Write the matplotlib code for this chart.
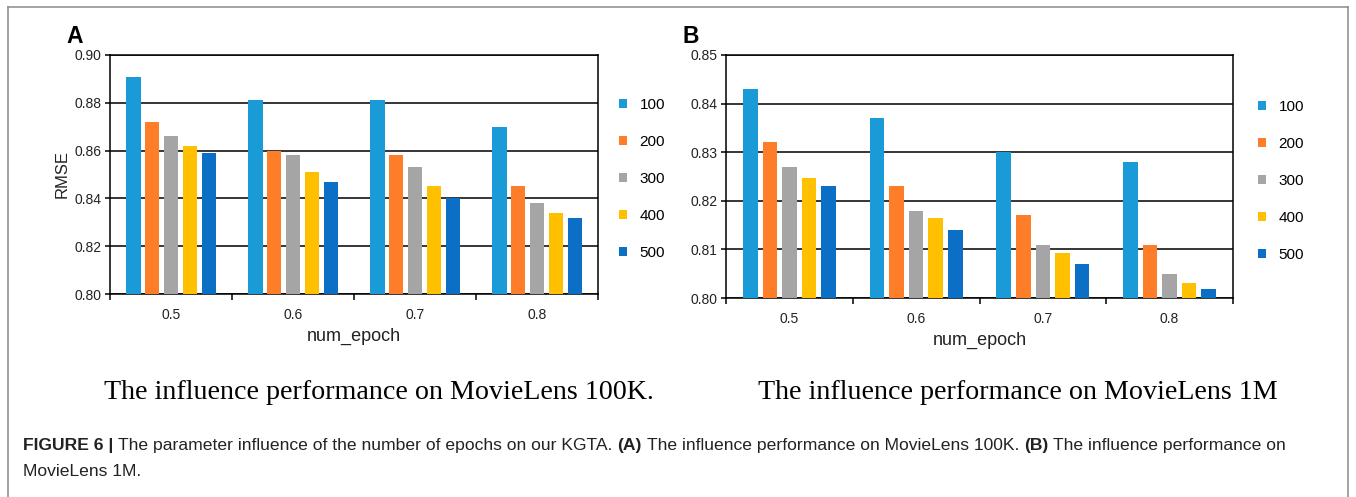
import matplotlib
matplotlib.use("Agg")
import matplotlib.pyplot as plt
import numpy as np
from matplotlib.lines import Line2D
from matplotlib.patches import Patch

W, H = 1356, 497

epochs = ["0.5", "0.6", "0.7", "0.8"]
series = ["100", "200", "300", "400", "500"]
colors = ["#1a9bd7", "#fd7d28", "#a5a5a5", "#ffc000", "#0a6fc5"]

# MovieLens 100K, RMSE per epoch setting
ml100k_100 = [0.891, 0.881, 0.881, 0.870]
ml100k_200 = [0.872, 0.860, 0.858, 0.845]
ml100k_300 = [0.866, 0.858, 0.853, 0.838]
ml100k_400 = [0.862, 0.851, 0.845, 0.834]
ml100k_500 = [0.859, 0.847, 0.840, 0.832]

# MovieLens 1M
ml1m_100 = [0.843, 0.837, 0.830, 0.828]
ml1m_200 = [0.832, 0.823, 0.817, 0.811]
ml1m_300 = [0.827, 0.818, 0.811, 0.805]
ml1m_400 = [0.8247, 0.8165, 0.8093, 0.8031]
ml1m_500 = [0.823, 0.814, 0.807, 0.8018]

yticks_a = [0.80, 0.82, 0.84, 0.86, 0.88, 0.90]
yticks_b = [0.80, 0.81, 0.82, 0.83, 0.84, 0.85]

SANS = "Liberation Sans"
SERIF = "Liberation Serif"


def px_axes(l, t, r, b):
    return [l / W, 1 - b / H, (r - l) / W, (b - t) / H]


def draw_panel(ax, values, yticks, leg_anchor):
    x = np.arange(len(epochs))
    pitch, width = 0.154, 0.116
    for i, (vals, c) in enumerate(zip(values, colors)):
        ax.bar(x + (i - 2) * pitch, vals, width=width, color=c, zorder=3)
    ax.set_xlim(-0.5, len(epochs) - 0.5)
    ax.set_ylim(yticks[0], yticks[-1])
    ax.set_yticks(yticks)
    ax.set_yticklabels([f"{v:.2f}" for v in yticks], fontfamily=SANS, fontsize=10, color="#222222")
    ax.set_xticks(x)
    ax.set_xticklabels(epochs, fontfamily=SANS, fontsize=10, color="#222222")
    ax.set_xticks(np.arange(-0.5, len(epochs), 1), minor=True)
    ax.tick_params(axis="x", which="major", length=0, pad=10)
    ax.tick_params(axis="x", which="minor", length=4, width=1.1, color="black")
    ax.tick_params(axis="y", length=3.5, width=1.1, pad=2.5, color="black")
    ax.yaxis.grid(True, color="black", linewidth=1.1, zorder=1)
    ax.set_axisbelow(True)
    for s in ax.spines.values():
        s.set_linewidth(1.1)
        s.set_color("black")
    ax.set_xlabel("num_epoch", fontfamily=SANS, fontsize=13, color="#222222", labelpad=4)
    handles = [Patch(facecolor=c, edgecolor="none") for c in colors]
    ax.legend(handles, series, loc="upper left", bbox_to_anchor=leg_anchor,
              frameon=False, handlelength=0.55, handleheight=0.55, handletextpad=0.8,
              labelspacing=1.51, borderpad=0, borderaxespad=0,
              prop={"family": SANS, "size": 11})


fig = plt.figure(figsize=(W / 100, H / 100), dpi=100)

ax_a = fig.add_axes(px_axes(110, 55, 598, 294))
draw_panel(ax_a, [ml100k_100, ml100k_200, ml100k_300, ml100k_400, ml100k_500],
           yticks_a, (1.043, 0.822))
ax_a.set_ylabel("RMSE", fontfamily=SANS, fontsize=12, color="#222222")
ax_a.yaxis.set_label_coords(-0.082, 0.5)

ax_b = fig.add_axes(px_axes(726, 55, 1233, 298))
draw_panel(ax_b, [ml1m_100, ml1m_200, ml1m_300, ml1m_400, ml1m_500],
           yticks_b, (1.049, 0.815))

fig.text(66 / W, 1 - 43 / H, "A", fontfamily=SANS, fontsize=16.5, fontweight="bold", va="baseline")
fig.text(683 / W, 1 - 43 / H, "B", fontfamily=SANS, fontsize=16.5, fontweight="bold", va="baseline")

fig.text(104 / W, 1 - 399 / H, "The influence performance on MovieLens 100K.",
         fontfamily=SERIF, fontsize=20.2, va="baseline")
fig.text(758 / W, 1 - 399 / H, "The influence performance on MovieLens 1M",
         fontfamily=SERIF, fontsize=20.2, va="baseline")

# outer frame, open at the bottom
frame = dict(color="#8a8a8a", linewidth=1.1, transform=fig.transFigure)
fig.add_artist(Line2D([8 / W, 8 / W], [0, 1 - 7 / H], **frame))
fig.add_artist(Line2D([1348 / W, 1348 / W], [0, 1 - 7 / H], **frame))
fig.add_artist(Line2D([8 / W, 1348 / W], [1 - 7 / H, 1 - 7 / H], **frame))

# caption with bold runs
renderer = fig.canvas.get_renderer()


def text_width(s, size, weight):
    t = fig.text(0, 0, s, fontfamily=SANS, fontsize=size, fontweight=weight)
    w = t.get_window_extent(renderer).width
    t.remove()
    return w


line1 = [("FIGURE 6 |", "bold"),
         ("The parameter influence of the number of epochs on our KGTA.", "normal"),
         ("(A)", "bold"),
         ("The influence performance on MovieLens 100K.", "normal"),
         ("(B)", "bold"),
         ("The influence performance on", "normal")]
line2 = [("MovieLens 1M.", "normal")]

cap_size = 11
space = text_width("x x", cap_size, "normal") - text_width("xx", cap_size, "normal")
total = sum(text_width(s, cap_size, w) for s, w in line1) + space * (len(line1) - 1)
cap_size = cap_size * 1258 / total
space = text_width("x x", cap_size, "normal") - text_width("xx", cap_size, "normal")


def put_line(runs, x_px, y_px):
    x = x_px
    for s, w in runs:
        fig.text(x / W, 1 - y_px / H, s, fontfamily=SANS, fontsize=cap_size,
                 fontweight=w, va="baseline", color="#222222")
        x += text_width(s, cap_size, w) + space


put_line(line1, 23, 450)
put_line(line2, 23, 476)

fig.savefig("out.png", dpi=100)
